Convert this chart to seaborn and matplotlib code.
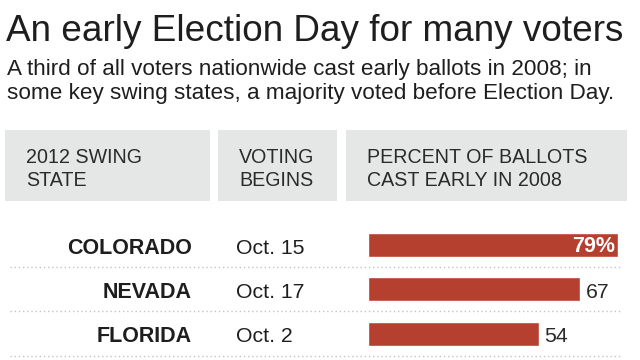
import matplotlib
matplotlib.use("Agg")
import matplotlib.pyplot as plt
import seaborn as sns
import pandas as pd
from matplotlib.patches import Rectangle
from matplotlib.transforms import blended_transform_factory

#############
###  Data ###
#############
states = ["COLORADO", "NEVADA", "FLORIDA"]
voting_begins = ["Oct. 15", "Oct. 17", "Oct. 2"]
pct_early = [79, 67, 54]
value_labels = ["79%", "67", "54"]

headers = [["2012 SWING", "STATE"], ["VOTING", "BEGINS"],
           ["PERCENT OF BALLOTS", "CAST EARLY IN 2008"]]

title = "An early Election Day for many voters"
subtitle = ["A third of all voters nationwide cast early ballots in 2008; in",
            "some key swing states, a majority voted before Election Day."]

df = pd.DataFrame({"state": states, "begins": voting_begins, "pct": pct_early})

#############
### Setup ###
#############
sns.set_theme(style="white")
plt.rcParams["font.family"] = ["Liberation Sans", "DejaVu Sans"]

W, H = 640, 360
fig = plt.figure(figsize=(6.4, 3.6), dpi=100)
fig.patch.set_facecolor("white")

def fx(px):
    return px / W

def fy(py):
    return 1 - py / H

TXT = "#1e1e1e"
BAR = "#b5402f"

## title block
fig.text(fx(6), fy(41), title, fontsize=26.6, color=TXT, va="baseline", ha="left")
for k, line in enumerate(subtitle):
    fig.text(fx(7), fy(75 + 24 * k), line, fontsize=16.2, color=TXT,
             va="baseline", ha="left")

## header boxes
boxes = [(5, 210), (218, 337), (346, 627)]
for (x0, x1), lines in zip(boxes, headers):
    fig.patches.append(Rectangle((fx(x0), fy(201)), fx(x1 - x0), (201 - 130) / H,
                                 transform=fig.transFigure, facecolor="#e5e6e6",
                                 edgecolor="none", zorder=0))
    for k, line in enumerate(lines):
        fig.text(fx(x0 + 21), fy(163 + 23 * k), line, fontsize=14.1, color="#2a2a2a",
                 va="baseline", ha="left")

## bars
row_h = 44.3
top = 245 - row_h / 2
ax = fig.add_axes([fx(368), fy(top + 3 * row_h), 316.5 / W, 3 * row_h / H])
sns.barplot(data=df, x="pct", y="state", color=BAR, width=24 / row_h,
            saturation=1, ax=ax, orient="h")
ax.set_xlim(0, 100)
ax.set_ylim(2.5, -0.5)
ax.axis("off")

base = 8.5 / row_h  # baseline offset of the row text below the bar centre
tr = blended_transform_factory(fig.transFigure, ax.transData)
for i, (st, bg, v, lab) in enumerate(zip(states, voting_begins, pct_early, value_labels)):
    ax.text(fx(192), i + base, st, transform=tr, ha="right", va="baseline",
            fontsize=15.5, fontweight="bold", color=TXT)
    ax.text(fx(236), i + base, bg, transform=tr, ha="left", va="baseline",
            fontsize=15.3, color=TXT)
    if i == 0:
        ax.text(v - 1.0, i + 7 / row_h, lab, ha="right", va="baseline",
                fontsize=15.5, fontweight="bold", color="white")
    else:
        ax.text(v + 1.8, i + base, lab, ha="left", va="baseline", fontsize=15.3,
                color="#2a2a2a")
    # dotted separators under each row
    ax.plot([fx(10), fx(622)], [i + 0.5, i + 0.5], transform=tr, clip_on=False,
            color="#c4c4c4", linestyle=(0, (1, 2)), linewidth=1)

fig.savefig("out.png", dpi=100)
